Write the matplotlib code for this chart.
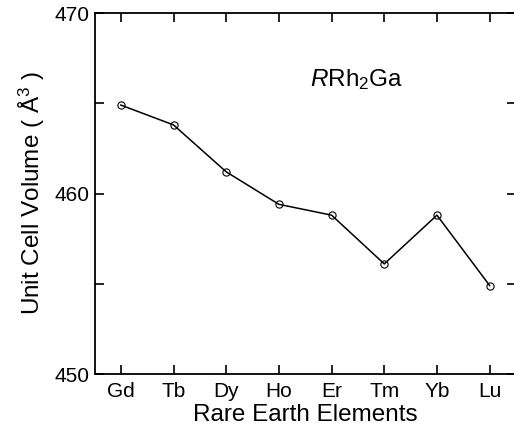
import numpy as np
import matplotlib.pyplot as plt

plt.rcParams['font.family'] = ['Liberation Sans', 'DejaVu Sans']
plt.rcParams['mathtext.fontset'] = 'custom'
plt.rcParams['mathtext.rm'] = 'Liberation Sans'
plt.rcParams['mathtext.it'] = 'Liberation Sans:italic'

# Лантаноиды и объём элементарной ячейки RRh2Ga
elements = ['Gd', 'Tb', 'Dy', 'Ho', 'Er', 'Tm', 'Yb', 'Lu']
volume = [464.9, 463.8, 461.2, 459.4, 458.8, 456.1, 458.8, 454.9]

x = np.arange(len(elements))

fig = plt.figure(figsize=(5.14, 4.41), dpi=100)
ax = fig.add_axes([95 / 514, 1 - 374 / 441, 421 / 514, 361 / 441])

ax.plot(x, volume, color='black', lw=1.1, marker='o', ms=5.2,
        mfc='none', mec='black', mew=0.8)

ax.set_xlim(-0.49, 7.5)
ax.set_ylim(450, 470)
ax.set_xticks(x)
ax.set_xticklabels(elements)
ax.set_yticks([450, 460, 470])
ax.set_yticks([455, 465], minor=True)

ax.tick_params(axis='both', which='both', direction='in', top=True, right=True,
               length=6.5, width=1.2, labelsize=15, colors='black')
ax.tick_params(axis='x', pad=6)
ax.tick_params(axis='y', pad=4)
for s in ax.spines.values():
    s.set_linewidth(1.3)

ax.set_xlabel('Rare Earth Elements', fontsize=17.5, labelpad=2)
ax.set_ylabel(r'Unit Cell Volume ( Å$^{3}$ )', fontsize=17.5, labelpad=5)

ax.text(4.47, 466.3, r'$\mathit{R}$Rh$_2$Ga', fontsize=17.5, ha='center', va='center')

plt.savefig('out.png', dpi=100)
